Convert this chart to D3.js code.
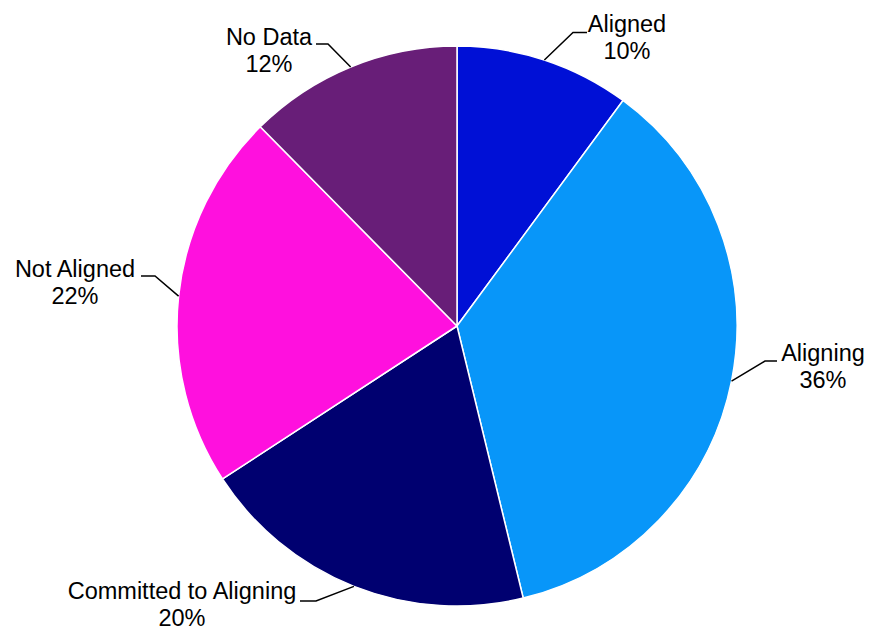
<!DOCTYPE html>
<html><head><meta charset="utf-8">
<script src="https://cdn.jsdelivr.net/npm/d3@7"></script>
<style>body{margin:0;background:#fff}svg{display:block}text{font-family:"Liberation Sans",Arial,sans-serif;font-size:23.5px;fill:#000}</style>
</head><body><svg id="c" width="869" height="629"></svg>
<script>
const categories = ["Aligned","Aligning","Committed to Aligning","Not Aligned","No Data"];
const values = [10.1,36.1,19.6,21.8,12.4];
const percentLabels = ["10%","36%","20%","22%","12%"];
const colors = ["#0010d6","#0896f9","#000070","#ff10de","#681e78"];
// label layout: text centre (x, first baseline), elbow point, leader end point
const labelLayout = [
  {tx:627, ty:32, ex:573, ey:32.5, hx:587, hy:32.5},
  {tx:823, ty:361, ex:765, ey:361, hx:777, hy:361},
  {tx:182, ty:599, ex:316, ey:601, hx:300, hy:601},
  {tx:75, ty:277, ex:155, ey:276, hx:141, hy:276},
  {tx:269, ty:45, ex:328, ey:44, hx:316, hy:44}
];

const svg = d3.select("#c");
const cx = 457, cy = 326, R = 280;
const data = categories.map((c,i)=>({cat:c, v:values[i], pct:percentLabels[i], col:colors[i], lay:labelLayout[i]}));
const pie = d3.pie().value(d=>d.v).sort(null);
const arc = d3.arc().innerRadius(0).outerRadius(R);
const g = svg.append("g").attr("transform",`translate(${cx},${cy})`);
const arcs = pie(data);
g.selectAll("path.s").data(arcs).join("path").attr("class","s")
  .attr("d",arc).attr("fill",d=>d.data.col).attr("stroke","#fff").attr("stroke-width",1.5);

arcs.forEach(a=>{
  const mid = (a.startAngle+a.endAngle)/2;
  const px = cx + R*Math.sin(mid), py = cy - R*Math.cos(mid);
  const L = a.data.lay;
  svg.append("polyline").attr("points",`${px},${py} ${L.ex},${L.ey} ${L.hx},${L.hy}`)
    .attr("fill","none").attr("stroke","#000").attr("stroke-width",1.5);
  const t = svg.append("text").attr("text-anchor","middle");
  t.append("tspan").attr("x",L.tx).attr("y",L.ty).text(a.data.cat);
  t.append("tspan").attr("x",L.tx).attr("y",L.ty+27).text(a.data.pct);
});
</script></body></html>
